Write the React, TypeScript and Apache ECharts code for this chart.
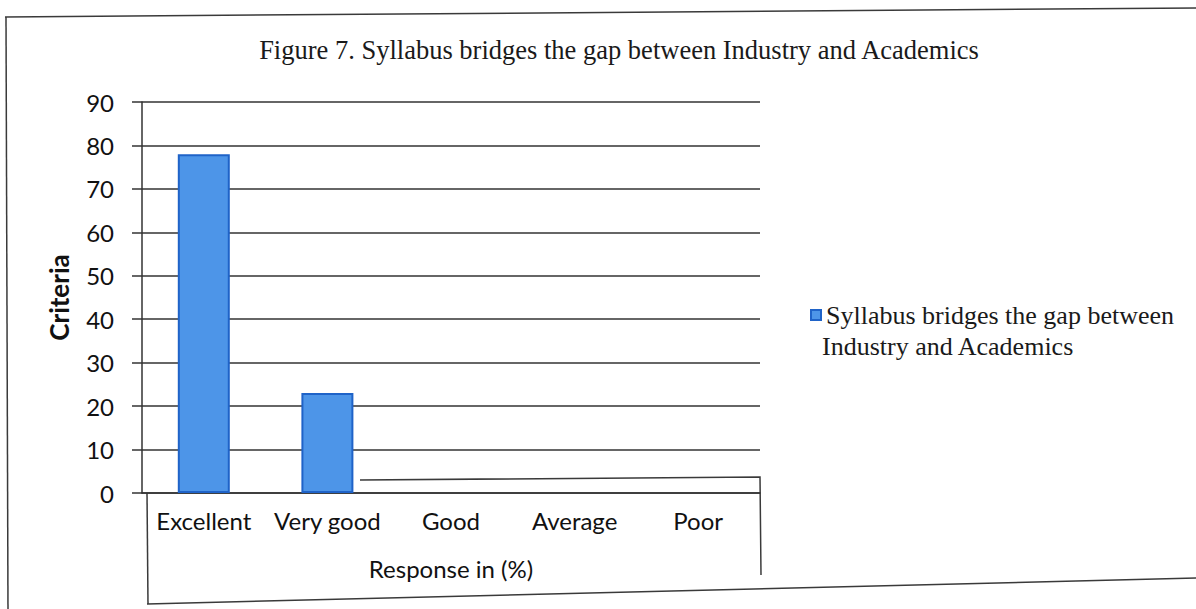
import React, { useEffect, useRef } from "react";
import * as echarts from "echarts";

const categories = ["Excellent", "Very good", "Good", "Average", "Poor"];
const values = [78, 23, 0, 0, 0];
const seriesName = "Syllabus bridges the gap between Industry and Academics";
const legendLine1 = "Syllabus bridges the gap between";
const legendLine2 = "Industry and Academics";
const titleText = "Figure 7. Syllabus bridges the gap between Industry and Academics";
const yAxisName = "Criteria";
const xAxisName = "Response in (%)";

export default function App() {
  const ref = useRef<HTMLDivElement>(null);
  useEffect(() => {
    const chart = echarts.init(ref.current!, null, { renderer: "svg" });
    const border = { stroke: "#3a3a3a", lineWidth: 1.5 };
    chart.setOption({
      animation: false,
      backgroundColor: "#ffffff",
      title: {
        text: titleText,
        left: 614,
        textAlign: "center",
        top: 31,
        textStyle: { fontFamily: "Liberation Serif", fontSize: 26.5, fontWeight: "normal", color: "#1a1a1a" },
      },
      legend: {
        left: 805,
        top: 297,
        orient: "vertical",
        icon: "rect",
        itemWidth: 10,
        itemHeight: 10,
        itemGap: 4,
        formatter: () => legendLine1,
        textStyle: {
          fontFamily: "Liberation Serif",
          fontSize: 26,
          color: "#1a1a1a",
        },
        data: [seriesName],
      },
      grid: { left: 142, right: 436, top: 102, bottom: 116, containLabel: false },
      xAxis: {
        type: "category",
        data: categories,
        name: xAxisName,
        nameLocation: "middle",
        nameGap: 63,
        nameTextStyle: { fontFamily: "Lato", fontSize: 24, color: "#111" },
        axisLine: { show: true, lineStyle: { color: "#333", width: 1.5 } },
        axisTick: { show: false },
        axisLabel: { fontFamily: "Lato", fontSize: 24, color: "#111", margin: 15, interval: 0 },
      },
      yAxis: {
        type: "value",
        min: 0,
        max: 90,
        interval: 10,
        name: yAxisName,
        nameLocation: "middle",
        nameGap: 70,
        nameRotate: 90,
        nameTextStyle: { fontFamily: "Lato", fontSize: 26, fontWeight: "bold", color: "#111" },
        axisLine: { show: true, lineStyle: { color: "#333", width: 1.5 } },
        axisTick: { show: true, length: 10, lineStyle: { color: "#333", width: 1.5 } },
        axisLabel: { fontFamily: "Lato", fontSize: 24, color: "#111", margin: 28 },
        splitLine: { show: true, lineStyle: { color: "#333", width: 1.5 } },
      },
      series: [
        {
          name: seriesName,
          type: "bar",
          data: values.map((v) => ({
            value: v,
            itemStyle: v === 0 ? { borderWidth: 0, color: "transparent" } : undefined,
          })),
          barWidth: 52,
          itemStyle: { color: "#4d95e8", borderColor: "#1f63c8", borderWidth: 2 },
        },
      ],
      graphic: [
        {
          type: "text",
          left: 822,
          top: 333,
          silent: true,
          style: { text: legendLine2, fontFamily: "Liberation Serif", fontSize: 26, fill: "#1a1a1a" },
        },
        { type: "line", shape: { x1: 5, y1: 17, x2: 1196, y2: 8 }, style: border, silent: true },
        { type: "line", shape: { x1: 6, y1: 17, x2: 8, y2: 609 }, style: border, silent: true },
        { type: "line", shape: { x1: 147, y1: 604, x2: 1196, y2: 578 }, style: border, silent: true },
        { type: "line", shape: { x1: 147, y1: 493, x2: 148, y2: 604 }, style: border, silent: true },
        {
          type: "polyline",
          shape: { points: [[360, 480], [760, 477], [761, 575]] },
          style: { ...border, fill: "none" },
          silent: true,
        },
      ],
    });
    return () => chart.dispose();
  }, []);
  return <div ref={ref} style={{ position: "absolute", left: 0, top: 0, width: 1196, height: 609 }} />;
}
